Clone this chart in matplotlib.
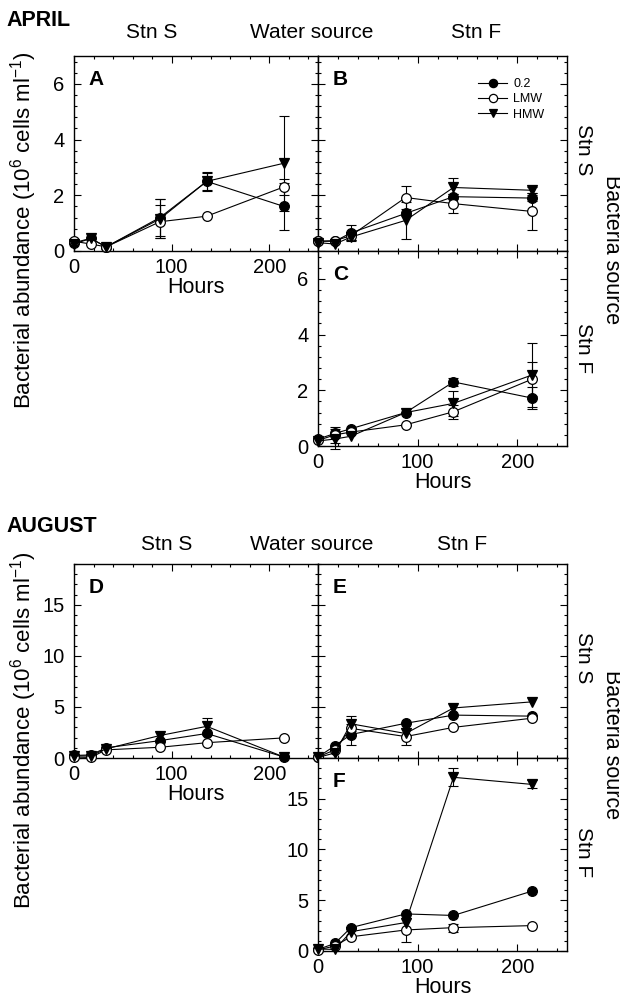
import matplotlib
matplotlib.use("Agg")
import matplotlib.pyplot as plt
from matplotlib.ticker import AutoMinorLocator

plt.rcParams['font.family'] = 'Liberation Sans'
plt.rcParams['mathtext.fontset'] = 'custom'
plt.rcParams['mathtext.rm'] = 'Liberation Sans'

# sampling times (h)
hours = [0, 17, 33, 88, 136, 215]
series = ['0.2', 'LMW', 'HMW']

# APRIL - A: bacteria Stn S, water Stn S
a_02 = [0.30, 0.45, 0.15, 1.20, 2.50, 1.60]
a_02_err = [0, 0, 0, 0.65, 0.35, 0.85]
a_lmw = [0.35, 0.25, 0.15, 1.05, 1.25, 2.30]
a_lmw_err = [0, 0, 0, 0.60, 0, 0.30]
a_hmw = [0.25, 0.45, 0.15, 1.15, 2.50, 3.15]
a_hmw_err = [0, 0, 0, 0.70, 0.30, 1.70]

# B: bacteria Stn S, water Stn F
b_02 = [0.35, 0.35, 0.65, 1.35, 1.95, 1.90]
b_02_err = [0, 0, 0.30, 0, 0.10, 0.10]
b_lmw = [0.35, 0.37, 0.55, 1.92, 1.70, 1.42]
b_lmw_err = [0, 0, 0.15, 0.40, 0.35, 0.65]
b_hmw = [0.30, 0.25, 0.50, 1.10, 2.28, 2.18]
b_hmw_err = [0, 0, 0.10, 0.67, 0.35, 0.10]

# C: bacteria Stn F, water Stn F
c_02 = [0.25, 0.45, 0.62, 1.20, 2.30, 1.72]
c_02_err = [0, 0, 0, 0, 0.15, 0.40]
c_lmw = [0.20, 0.40, 0.50, 0.76, 1.23, 2.40]
c_lmw_err = [0, 0.30, 0, 0, 0.25, 0.60]
c_hmw = [0.18, 0.25, 0.35, 1.20, 1.53, 2.55]
c_hmw_err = [0, 0.35, 0, 0, 0.45, 1.15]

# AUGUST - D: bacteria Stn S, water Stn S
d_02 = [0.25, 0.30, 1.00, 1.70, 2.40, 0.10]
d_02_err = [0, 0, 0, 0, 0, 0]
d_lmw = [0.10, 0.05, 0.80, 1.05, 1.50, 1.97]
d_lmw_err = [0, 0, 0, 0, 0, 0]
d_hmw = [0.20, 0.20, 0.90, 2.20, 3.10, 0.10]
d_hmw_err = [0, 0, 0, 0, 0.80, 0]

# E: bacteria Stn S, water Stn F
e_02 = [0.10, 1.20, 2.30, 3.40, 4.20, 4.10]
e_02_err = [0, 0, 1.00, 0, 0, 0]
e_lmw = [0.10, 0.80, 2.90, 2.10, 3.00, 3.90]
e_lmw_err = [0, 0, 0, 0.85, 0, 0]
e_hmw = [0.05, 0.50, 3.35, 2.40, 4.90, 5.50]
e_hmw_err = [0, 0, 0.75, 0, 0, 0]

# F: bacteria Stn F, water Stn F
f_02 = [0.15, 0.75, 2.30, 3.65, 3.50, 5.90]
f_02_err = [0, 0, 0, 0, 0, 0]
f_lmw = [0.10, 0.50, 1.40, 2.07, 2.30, 2.50]
f_lmw_err = [0, 0, 0, 1.15, 0.40, 0]
f_hmw = [0.20, 0.15, 1.90, 2.80, 17.10, 16.40]
f_hmw_err = [0, 0, 0, 0, 0.90, 0.40]

W, H = 620, 1006
fig = plt.figure(figsize=(W / 100, H / 100), dpi=100)


def box(l, t, r, b):
    return [l / W, 1 - b / H, (r - l) / W, (b - t) / H]


def ftxt(x, y, s, **kw):
    kw.setdefault('ha', 'center')
    kw.setdefault('va', 'center')
    fig.text(x / W, 1 - y / H, s, **kw)


styles = {
    '0.2': dict(marker='o', mfc='black'),
    'LMW': dict(marker='o', mfc='white'),
    'HMW': dict(marker='v', mfc='black'),
}


def panel(rect, data, letter, ymax, ystep, ylabels, xlabels):
    ax = fig.add_axes(rect)
    for name, (vals, errs) in zip(series, data):
        ax.plot(hours, vals, color='black', lw=0.8, ms=7, mec='black',
                mew=0.9, clip_on=False, zorder=3, label=name, **styles[name])
        idx = [i for i, e in enumerate(errs) if e > 0]
        if idx:
            ax.errorbar([hours[i] for i in idx], [vals[i] for i in idx],
                        yerr=[errs[i] for i in idx], fmt='none', ecolor='black',
                        elinewidth=0.8, capsize=3.5, capthick=0.8,
                        clip_on=False, zorder=2)
    ax.set_xlim(0, 250)
    ax.set_ylim(0, ymax)
    ax.set_xticks([0, 100, 200])
    ax.set_yticks(range(0, int(ymax) + 1, ystep))
    ax.xaxis.set_minor_locator(AutoMinorLocator(5))
    ax.yaxis.set_minor_locator(AutoMinorLocator(5))
    ax.tick_params(which='both', direction='in', top=True, right=True,
                   width=0.8, labelsize=14.5)
    ax.tick_params(which='major', length=5)
    ax.tick_params(which='minor', length=2.5)
    ax.tick_params(axis='x', pad=5)
    ax.tick_params(axis='y', pad=7)
    ax.tick_params(labelleft=ylabels, labelbottom=xlabels)
    if xlabels:
        ax.set_xlabel('Hours', fontsize=15.5, labelpad=0)
    for sp in ax.spines.values():
        sp.set_linewidth(1.0)
    ax.text(0.06, 0.88, letter, transform=ax.transAxes, fontsize=15,
            fontweight='bold', ha='left', va='center')
    return ax


axA = panel(box(74, 56, 318, 251),
            [(a_02, a_02_err), (a_lmw, a_lmw_err), (a_hmw, a_hmw_err)],
            'A', 7, 2, True, True)
axB = panel(box(318, 56, 567, 251),
            [(b_02, b_02_err), (b_lmw, b_lmw_err), (b_hmw, b_hmw_err)],
            'B', 7, 2, False, False)
axC = panel(box(318, 251, 567, 446),
            [(c_02, c_02_err), (c_lmw, c_lmw_err), (c_hmw, c_hmw_err)],
            'C', 7, 2, True, True)
axD = panel(box(74, 564, 318, 758),
            [(d_02, d_02_err), (d_lmw, d_lmw_err), (d_hmw, d_hmw_err)],
            'D', 19, 5, True, True)
axE = panel(box(318, 564, 567, 758),
            [(e_02, e_02_err), (e_lmw, e_lmw_err), (e_hmw, e_hmw_err)],
            'E', 19, 5, False, False)
axF = panel(box(318, 758, 567, 951),
            [(f_02, f_02_err), (f_lmw, f_lmw_err), (f_hmw, f_hmw_err)],
            'F', 19, 5, True, True)

axB.legend(loc='upper left', bbox_to_anchor=(472 / W, 1 - 72 / H),
           bbox_transform=fig.transFigure, frameon=False, fontsize=9,
           handlelength=2.3, handletextpad=0.5, labelspacing=0.25,
           markerscale=0.85, borderpad=0)

ylab = 'Bacterial abundance (10$^{6}$ cells ml$^{-1}$)'
for top, month, ymid_lab, rs, rf, rmid in [
        (0, 'APRIL', 230, 150, 348, 250),
        (505, 'AUGUST', 730, 658, 852, 745)]:
    ftxt(6, top + 21, month, ha='left', fontsize=15.5, fontweight='bold')
    hy = top + 33 if month == 'APRIL' else 545
    ftxt(152 if month == 'APRIL' else 167, hy, 'Stn S', fontsize=15)
    ftxt(312, hy, 'Water source', fontsize=15)
    ftxt(476 if month == 'APRIL' else 462, hy, 'Stn F', fontsize=15)
    ftxt(24, ymid_lab, ylab, rotation=90, fontsize=16)
    ftxt(584, rs, 'Stn S', rotation=270, fontsize=15)
    ftxt(584, rf, 'Stn F', rotation=270, fontsize=15)
    ftxt(611, rmid, 'Bacteria source', rotation=270, fontsize=15.5)

fig.savefig('out.png', dpi=100)
